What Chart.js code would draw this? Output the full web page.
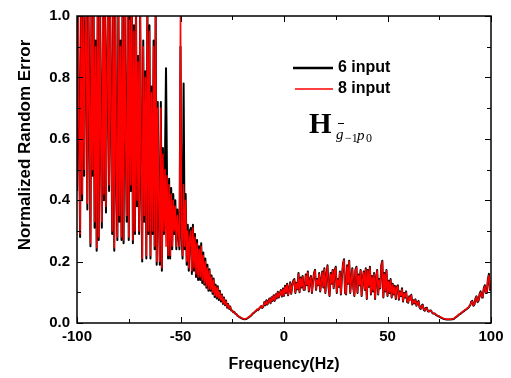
<!DOCTYPE html>
<html lang="en">
<head>
  <meta charset="UTF-8" />
  <title>Normalized Random Error</title>
  <script src="https://cdn.jsdelivr.net/npm/chart.js"></script>
  <style>
    body { margin: 0; background: #fff; }
    canvas { display: block; }
  </style>
</head>
<body>
<canvas id="chart" width="511" height="378"></canvas>
<script>
  // frequency axis: -100 .. 100 Hz, one point every 0.5 Hz
  const freqStart = -100;
  const freqStep = 0.5;

  // values (1.05 = clipped at the top of the plot), 10 points per 5 Hz row
  const input8 = [
    0.45, 1.05, 0.6, 0.29, 1.05, 0.42, 1.05, 0.5, 0.95, 1.05,
    0.39, 1.05, 0.7, 0.26, 1.05, 0.5, 1.05, 0.33, 0.9, 0.245,
    1.05, 0.28, 1.05, 0.6, 0.33, 1.05, 0.42, 1.05, 0.38, 0.8,
    1.05, 0.45, 1.05, 0.7, 0.3, 1.05, 0.245, 1.05, 0.5, 0.28,
    1.05, 0.35, 0.9, 0.28, 1.05, 0.27, 1.05, 0.6, 0.35, 1.05,
    0.28, 1.05, 0.45, 1.05, 0.27, 0.95, 0.3, 1.05, 0.4, 0.85,
    0.3, 1.05, 0.5, 0.21, 0.9, 0.35, 0.8, 0.22, 1.05, 0.3,
    0.95, 0.22, 0.75, 0.3, 0.9, 0.25, 1.05, 0.2, 0.7, 0.4,
    0.2, 0.7, 0.18, 0.55, 0.3, 0.5, 0.25, 0.48, 0.22, 0.45,
    0.22, 0.42, 0.25, 0.4, 0.3, 0.38, 0.25, 0.35, 0.3, 0.25,
    1.05, 0.3, 0.22, 0.45, 0.25, 0.4, 0.2, 0.3, 0.18, 0.28,
    0.3, 0.17, 0.31, 0.18, 0.28, 0.16, 0.26, 0.15, 0.24, 0.15,
    0.25, 0.14, 0.22, 0.13, 0.2, 0.12, 0.18, 0.11, 0.17, 0.11,
    0.15, 0.1, 0.14, 0.09, 0.12, 0.085, 0.115, 0.08, 0.1, 0.075,
    0.09, 0.065, 0.08, 0.06, 0.07, 0.052, 0.06, 0.048, 0.052, 0.043,
    0.04, 0.036, 0.035, 0.031, 0.028, 0.025, 0.022, 0.02, 0.018, 0.016,
    0.015, 0.014, 0.013, 0.014, 0.015, 0.017, 0.02, 0.022, 0.025, 0.028,
    0.032, 0.034, 0.038, 0.04, 0.045, 0.043, 0.048, 0.052, 0.056, 0.05,
    0.055, 0.066, 0.06, 0.072, 0.062, 0.07, 0.078, 0.066, 0.082, 0.074,
    0.088, 0.074, 0.092, 0.082, 0.1, 0.085, 0.095, 0.105, 0.088, 0.11,
    0.09, 0.118, 0.1, 0.125, 0.092, 0.108, 0.13, 0.097, 0.12, 0.135,
    0.14, 0.1, 0.128, 0.112, 0.16, 0.102, 0.145, 0.118, 0.15, 0.11,
    0.11, 0.155, 0.125, 0.165, 0.105, 0.138, 0.15, 0.1, 0.13, 0.16,
    0.17, 0.11, 0.14, 0.125, 0.16, 0.105, 0.132, 0.165, 0.118, 0.175,
    0.1, 0.15, 0.185, 0.12, 0.09, 0.16, 0.13, 0.17, 0.115, 0.17,
    0.18, 0.1, 0.14, 0.12, 0.165, 0.095, 0.15, 0.19, 0.205, 0.1,
    0.095, 0.185, 0.13, 0.2, 0.1, 0.14, 0.175, 0.115, 0.09, 0.17,
    0.18, 0.1, 0.155, 0.125, 0.17, 0.09, 0.14, 0.165, 0.11, 0.175,
    0.08, 0.17, 0.12, 0.18, 0.095, 0.15, 0.105, 0.16, 0.08, 0.145,
    0.17, 0.095, 0.14, 0.115, 0.185, 0.2, 0.085, 0.16, 0.105, 0.17,
    0.09, 0.135, 0.1, 0.14, 0.085, 0.125, 0.095, 0.118, 0.08, 0.115,
    0.12, 0.078, 0.1, 0.09, 0.11, 0.072, 0.095, 0.085, 0.1, 0.07,
    0.068, 0.085, 0.075, 0.09, 0.062, 0.072, 0.066, 0.075, 0.058, 0.066,
    0.07, 0.052, 0.048, 0.055, 0.058, 0.045, 0.042, 0.047, 0.048, 0.04,
    0.038, 0.04, 0.04, 0.035, 0.032, 0.031, 0.03, 0.027, 0.025, 0.023,
    0.022, 0.02, 0.018, 0.016, 0.015, 0.014, 0.013, 0.012, 0.012, 0.012,
    0.012, 0.012, 0.013, 0.013, 0.014, 0.017, 0.02, 0.022, 0.025, 0.028,
    0.03, 0.032, 0.035, 0.038, 0.04, 0.043, 0.045, 0.048, 0.05, 0.055,
    0.06, 0.068, 0.07, 0.058, 0.062, 0.078, 0.085, 0.07, 0.075, 0.092,
    0.1, 0.085, 0.085, 0.11, 0.12, 0.1, 0.1, 0.14, 0.155, 0.11,
    0.12
  ];

  const input6 = [
    0.43, 1.05, 0.62, 0.28, 1.05, 0.4, 1.05, 0.48, 0.97, 1.05,
    0.37, 1.05, 0.72, 0.25, 1.05, 0.48, 1.05, 0.31, 0.92, 0.235,
    1.05, 0.27, 1.05, 0.62, 0.31, 1.05, 0.4, 1.05, 0.36, 0.82,
    1.05, 0.43, 1.05, 0.72, 0.29, 1.05, 0.235, 1.05, 0.48, 0.27,
    1.05, 0.33, 0.92, 0.27, 1.05, 0.26, 1.05, 0.62, 0.33, 1.05,
    0.27, 1.05, 0.43, 1.05, 0.26, 0.97, 0.29, 1.05, 0.38, 0.87,
    0.29, 1.05, 0.48, 0.2, 0.92, 0.33, 0.82, 0.21, 1.05, 0.29,
    0.97, 0.21, 0.77, 0.29, 0.92, 0.24, 1.05, 0.19, 0.72, 0.38,
    0.19, 0.72, 0.17, 0.57, 0.29, 0.52, 0.83, 0.46, 0.21, 0.47,
    0.21, 0.44, 0.24, 0.42, 0.29, 0.4, 0.24, 0.37, 0.29, 0.24,
    0.9, 0.29, 0.21, 0.78, 0.24, 0.42, 0.19, 0.32, 0.17, 0.3,
    0.31, 0.16, 0.32, 0.17, 0.29, 0.15, 0.27, 0.14, 0.25, 0.14,
    0.26, 0.13, 0.23, 0.125, 0.21, 0.115, 0.19, 0.105, 0.175, 0.105,
    0.155, 0.095, 0.145, 0.085, 0.125, 0.08, 0.12, 0.075, 0.105, 0.07,
    0.093, 0.062, 0.083, 0.058, 0.073, 0.05, 0.062, 0.046, 0.054, 0.041,
    0.041, 0.035, 0.036, 0.03, 0.029, 0.024, 0.022, 0.019, 0.018, 0.015,
    0.014, 0.013, 0.012, 0.013, 0.014, 0.016, 0.019, 0.021, 0.024, 0.027,
    0.031, 0.033, 0.037, 0.039, 0.044, 0.042, 0.047, 0.051, 0.055, 0.049,
    0.053, 0.068, 0.058, 0.074, 0.06, 0.072, 0.08, 0.064, 0.084, 0.072,
    0.09, 0.072, 0.094, 0.08, 0.102, 0.083, 0.097, 0.107, 0.086, 0.112,
    0.088, 0.121, 0.098, 0.128, 0.09, 0.111, 0.133, 0.095, 0.123, 0.138,
    0.143, 0.098, 0.131, 0.11, 0.163, 0.1, 0.148, 0.116, 0.153, 0.108,
    0.108, 0.158, 0.123, 0.168, 0.103, 0.141, 0.153, 0.098, 0.133, 0.163,
    0.173, 0.108, 0.143, 0.123, 0.163, 0.103, 0.135, 0.168, 0.116, 0.178,
    0.098, 0.153, 0.188, 0.118, 0.088, 0.163, 0.128, 0.173, 0.113, 0.173,
    0.183, 0.098, 0.143, 0.118, 0.168, 0.093, 0.153, 0.193, 0.208, 0.098,
    0.093, 0.188, 0.128, 0.203, 0.098, 0.143, 0.178, 0.113, 0.088, 0.173,
    0.183, 0.098, 0.158, 0.123, 0.173, 0.088, 0.143, 0.168, 0.108, 0.178,
    0.078, 0.173, 0.118, 0.183, 0.093, 0.153, 0.103, 0.163, 0.078, 0.148,
    0.173, 0.093, 0.143, 0.113, 0.188, 0.203, 0.083, 0.163, 0.103, 0.173,
    0.088, 0.138, 0.098, 0.143, 0.083, 0.128, 0.093, 0.121, 0.078, 0.118,
    0.123, 0.076, 0.103, 0.088, 0.113, 0.07, 0.098, 0.083, 0.103, 0.068,
    0.066, 0.087, 0.077, 0.092, 0.06, 0.074, 0.064, 0.077, 0.056, 0.068,
    0.072, 0.05, 0.046, 0.057, 0.06, 0.043, 0.04, 0.049, 0.05, 0.038,
    0.037, 0.041, 0.041, 0.034, 0.031, 0.031, 0.03, 0.026, 0.024, 0.022,
    0.021, 0.019, 0.017, 0.015, 0.014, 0.013, 0.012, 0.011, 0.011, 0.011,
    0.011, 0.011, 0.012, 0.012, 0.013, 0.016, 0.019, 0.021, 0.024, 0.027,
    0.029, 0.031, 0.034, 0.037, 0.039, 0.042, 0.044, 0.047, 0.049, 0.054,
    0.058, 0.07, 0.072, 0.056, 0.06, 0.08, 0.087, 0.068, 0.073, 0.095,
    0.103, 0.083, 0.083, 0.113, 0.123, 0.098, 0.098, 0.143, 0.16, 0.108,
    0.118
  ];

  const seriesNames = ['6 input', '8 input'];
  const xTickValues = [-100, -75, -50, -25, 0, 25, 50, 75, 100];
  const yTickValues = [0, 0.1, 0.2, 0.3, 0.4, 0.5, 0.6, 0.7, 0.8, 0.9, 1.0];

  const toPoints = vals => vals.map((v, i) => ({ x: freqStart + i * freqStep, y: v }));

  const sans = '"Liberation Sans", Arial, sans-serif';
  const serif = '"Liberation Serif", "Times New Roman", serif';

  // frame, inward ticks, legend, annotation and axis titles
  const decor = {
    id: 'decor',
    afterDraw(chart) {
      const { ctx, chartArea: a, scales: { x, y } } = chart;
      ctx.save();
      ctx.strokeStyle = '#000';
      ctx.lineWidth = 1.5;
      ctx.strokeRect(a.left, a.top, a.right - a.left, a.bottom - a.top);

      ctx.lineWidth = 1;
      xTickValues.forEach(v => {
        const px = Math.round(x.getPixelForValue(v)) + 0.5;
        const len = v % 50 === 0 ? 6 : 4;
        ctx.beginPath();
        ctx.moveTo(px, a.bottom); ctx.lineTo(px, a.bottom - len);
        ctx.moveTo(px, a.top); ctx.lineTo(px, a.top + len);
        ctx.stroke();
      });
      yTickValues.forEach((v, i) => {
        const py = Math.round(y.getPixelForValue(v)) + 0.5;
        const len = i % 2 === 0 ? 6 : 4;
        ctx.beginPath();
        ctx.moveTo(a.left, py); ctx.lineTo(a.left + len, py);
        ctx.moveTo(a.right, py); ctx.lineTo(a.right - len, py);
        ctx.stroke();
      });

      // legend
      ctx.lineWidth = 2.5;
      ctx.strokeStyle = '#000';
      ctx.beginPath(); ctx.moveTo(293, 68); ctx.lineTo(333, 68); ctx.stroke();
      ctx.lineWidth = 1.5;
      ctx.strokeStyle = '#ff0000';
      ctx.beginPath(); ctx.moveTo(295, 89); ctx.lineTo(333, 89); ctx.stroke();
      ctx.fillStyle = '#000';
      ctx.font = 'bold 16px ' + sans;
      ctx.textBaseline = 'middle';
      ctx.textAlign = 'left';
      ctx.fillText(seriesNames[0], 338, 68);
      ctx.fillText(seriesNames[1], 338, 89);

      // H with subscript
      ctx.textBaseline = 'alphabetic';
      ctx.font = 'bold 29px ' + serif;
      ctx.fillText('H', 309, 133);
      ctx.font = 'italic 15px ' + serif;
      ctx.fillText('g', 336, 139);
      ctx.lineWidth = 1;
      ctx.strokeStyle = '#000';
      ctx.beginPath(); ctx.moveTo(338, 123.5); ctx.lineTo(344, 123.5); ctx.stroke();
      ctx.font = '12px ' + serif;
      ctx.fillText('\u22121', 345, 142);
      ctx.font = 'italic 15px ' + serif;
      ctx.fillText('p', 357, 140);
      ctx.font = '12px ' + serif;
      ctx.fillText('0', 366, 142);

      // axis titles
      ctx.font = 'bold 16px ' + sans;
      ctx.textAlign = 'center';
      ctx.textBaseline = 'middle';
      ctx.fillText('Frequency(Hz)', 284, 365);
      ctx.save();
      ctx.translate(25, 145);
      ctx.rotate(-Math.PI / 2);
      ctx.font = 'bold 17px ' + sans;
      ctx.fillText('Normalized Random Error', 0, 0);
      ctx.restore();

      ctx.restore();
    }
  };

  new Chart(document.getElementById('chart').getContext('2d'), {
    type: 'line',
    data: {
      datasets: [
        {
          label: seriesNames[0],
          data: toPoints(input6),
          borderColor: '#000000',
          borderWidth: 2,
          pointRadius: 0,
          borderJoinStyle: 'round',
          order: 1
        },
        {
          label: seriesNames[1],
          data: toPoints(input8),
          borderColor: '#ff0000',
          borderWidth: 1.5,
          pointRadius: 0,
          borderJoinStyle: 'round',
          order: 0
        }
      ]
    },
    options: {
      responsive: false,
      animation: false,
      layout: { padding: { top: 15, right: 20, left: 0, bottom: 0 } },
      plugins: {
        legend: { display: false },
        tooltip: { enabled: false }
      },
      scales: {
        x: {
          type: 'linear',
          min: -100,
          max: 100,
          afterFit: s => { s.height = 55; },
          grid: { display: false, drawTicks: false },
          border: { display: false },
          ticks: {
            stepSize: 50,
            padding: 5,
            color: '#000',
            font: { family: sans, size: 15, weight: 'bold' }
          }
        },
        y: {
          min: 0,
          max: 1,
          afterFit: s => { s.width = 77; },
          grid: { display: false, drawTicks: false },
          border: { display: false },
          ticks: {
            stepSize: 0.2,
            padding: 7,
            color: '#000',
            font: { family: sans, size: 15, weight: 'bold' },
            callback: v => v.toFixed(1)
          }
        }
      }
    },
    plugins: [decor]
  });
</script>
</body>
</html>
